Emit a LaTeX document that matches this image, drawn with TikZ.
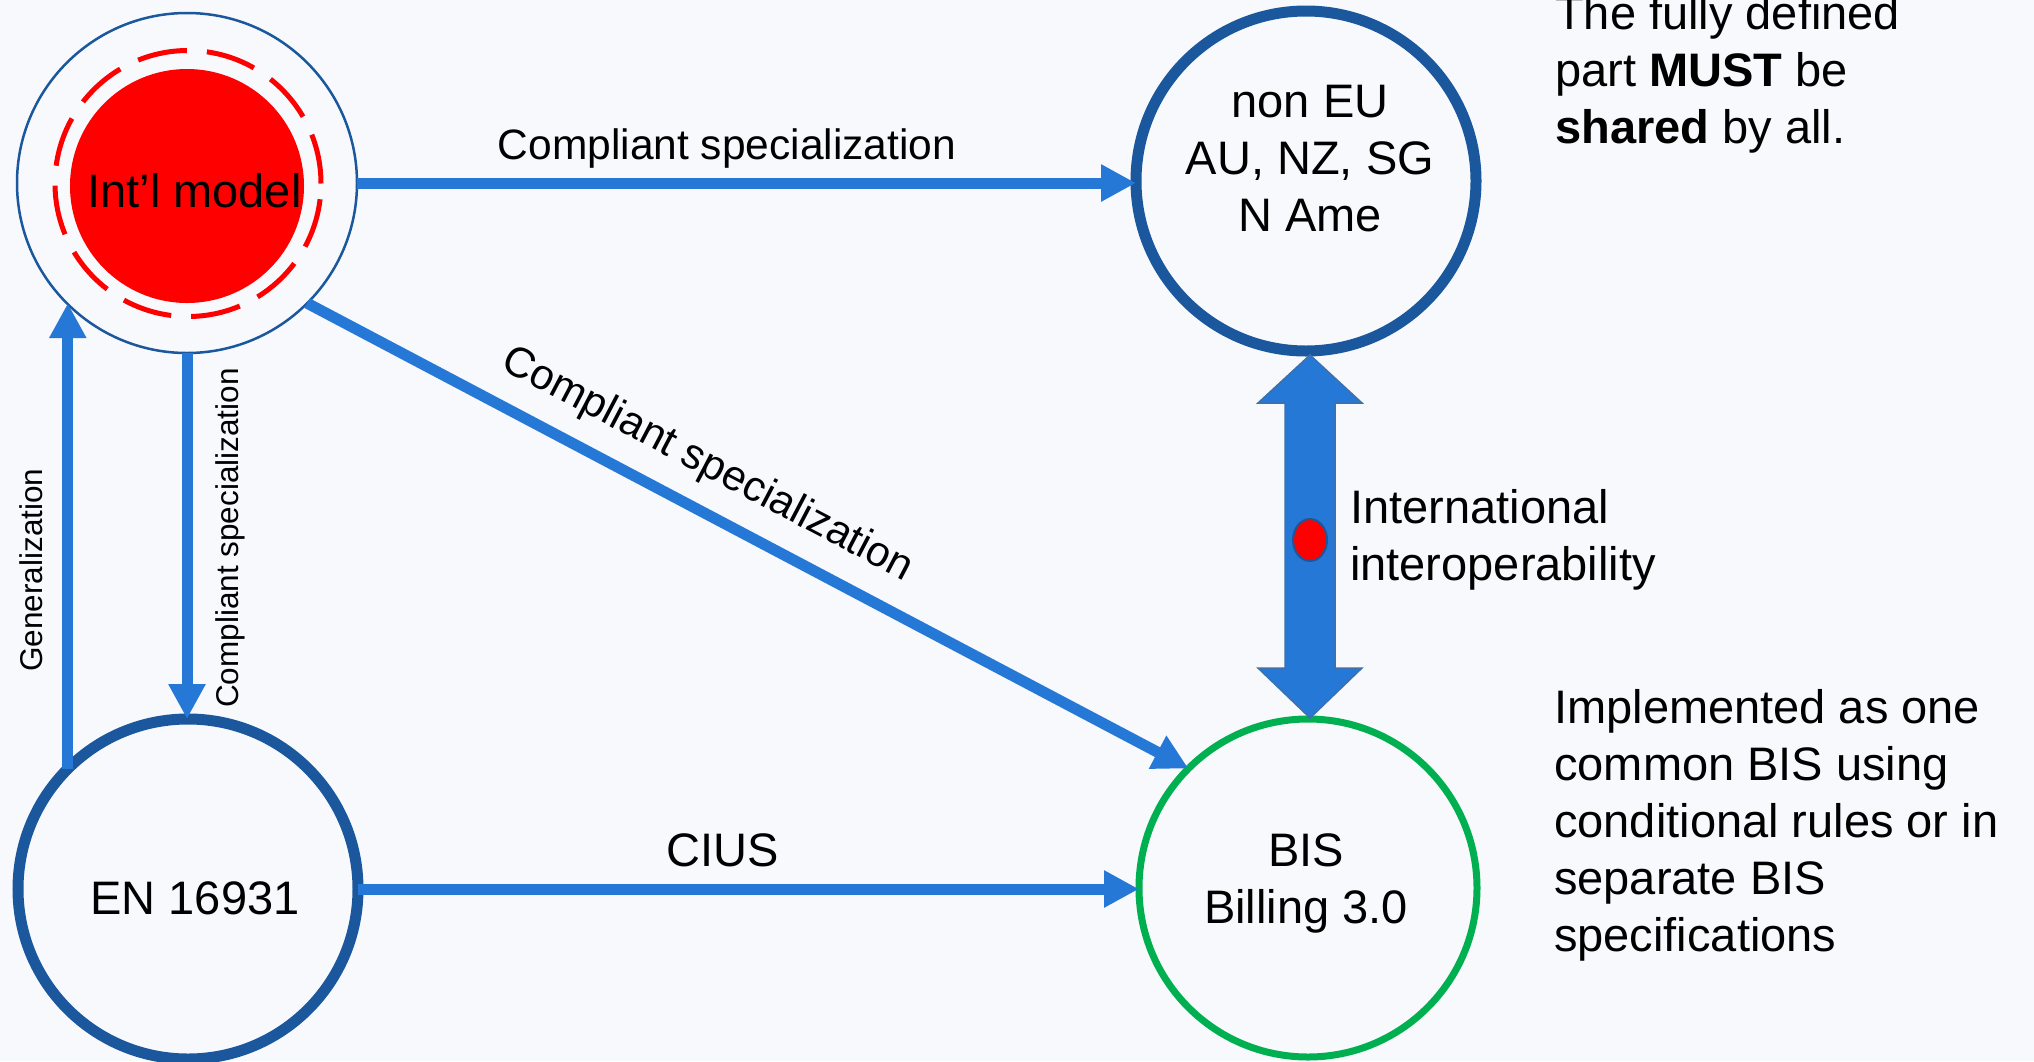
\documentclass[tikz,border=0pt]{standalone}
\usepackage{fontspec}
\setmainfont{Liberation Sans}
\usetikzlibrary{arrows.meta}
\definecolor{bg}{RGB}{247,249,253}
\definecolor{arrowblue}{RGB}{37,120,213}
\definecolor{darkblue}{RGB}{27,87,157}
\definecolor{bisgreen}{RGB}{0,176,80}
\begin{document}
\begin{tikzpicture}[x=1pt,y=-1pt,
  conn/.style={draw=arrowblue, line width=11pt, -{Triangle[width=35pt,length=35pt]}},
  bigtxt/.style={font=\fontsize{47}{57}\selectfont, inner sep=0pt},
  midtxt/.style={font=\fontsize{42.5}{51}\selectfont, inner sep=0pt},
  smalltxt/.style={font=\fontsize{31.5}{38}\selectfont, inner sep=0pt},
  model/.style={circle, minimum size=340pt, inner sep=0pt, outer sep=0pt}
]
\fill[bg] (0,0) rectangle (2034,1061);
\useasboundingbox (0,0) rectangle (2034,1061);

% Int'l model
\node[model, draw=darkblue, line width=2.5pt, fill=bg] (intl) at (187,183) {};
\draw[red, line width=5pt, dash pattern=on 50pt off 20pt] (188,183.5) circle[radius=133pt];
\fill[red] (187,186) circle[radius=117pt];
\node[bigtxt, anchor=base] (intltxt) at (194.5,207) {Int’l model};

% non EU
\node[model, draw=darkblue, line width=11pt] (noneu) at (1306,181) {};
\node[bigtxt, anchor=base] (noneutxt) at (1310,117) {\begin{tabular}[t]{@{}c@{}}non EU\\AU, NZ, SG\\N Ame\end{tabular}};

% EN 16931
\node[model, draw=darkblue, line width=11pt] (en) at (188,889) {};
\node[bigtxt, anchor=base] (entxt) at (195,914) {EN 16931};

% BIS
\node[model, draw=bisgreen, line width=7pt, minimum size=338pt] (bis) at (1308,888) {};
\node[bigtxt, anchor=base] (bistxt) at (1306,866) {\begin{tabular}[t]{@{}c@{}}BIS\\Billing 3.0\end{tabular}};

% connectors
\draw[conn] (intl.east) -- (intl.east -| noneu.west);
\node[midtxt, anchor=base] (lbl1) at (727,159) {Compliant specialization};

\draw[conn] (intl.south east) -- (bis.north west);
\node[midtxt, rotate=-27.7] (lbl2) at (707,465) {Compliant specialization};

\draw[conn] (intl.south) -- (intl.south |- en.north);
\node[smalltxt, rotate=90, anchor=base] (lbl3) at (238,538) {Compliant specialization};

\draw[conn] (en.135) -- (en.135 |- intl.225);
\node[smalltxt, rotate=90, anchor=base] (lbl4) at (42,570) {Generalization};

\draw[conn] (en.east) -- (en.east -| bis.west);
\node[bigtxt, anchor=base] (lbl5) at (723,866) {CIUS};

% double block arrow
\coordinate (dt) at (1310,355);
\coordinate (db) at (1310,718);
\draw[fill=arrowblue, draw=darkblue!85, line width=1.5pt, line join=miter]
  (dt) -- ++(52,48) -- ++(-27,0) -- ++(0,265) -- ++(27,0) -- (db)
  -- ++(-52,-50) -- ++(27,0) -- ++(0,-265) -- ++(-27,0) -- cycle;
\draw[fill=red, draw=darkblue, line width=2pt] (1310,540) ellipse[x radius=17pt, y radius=21pt];

% side texts
\node[bigtxt, anchor=base west] (interop) at (1350,523) {\begin{tabular}[t]{@{}l@{}}International\\interoperability\end{tabular}};
\node[bigtxt, anchor=base west] (shared) at (1555,29) {\begin{tabular}[t]{@{}l@{}}The fully defined\\part \textbf{MUST} be\\\textbf{shared} by all.\end{tabular}};
\node[bigtxt, anchor=base west] (impl) at (1554,723) {\begin{tabular}[t]{@{}l@{}}Implemented as one\\common BIS using\\conditional rules or in\\separate BIS\\specifications\end{tabular}};
\end{tikzpicture}
\end{document}
